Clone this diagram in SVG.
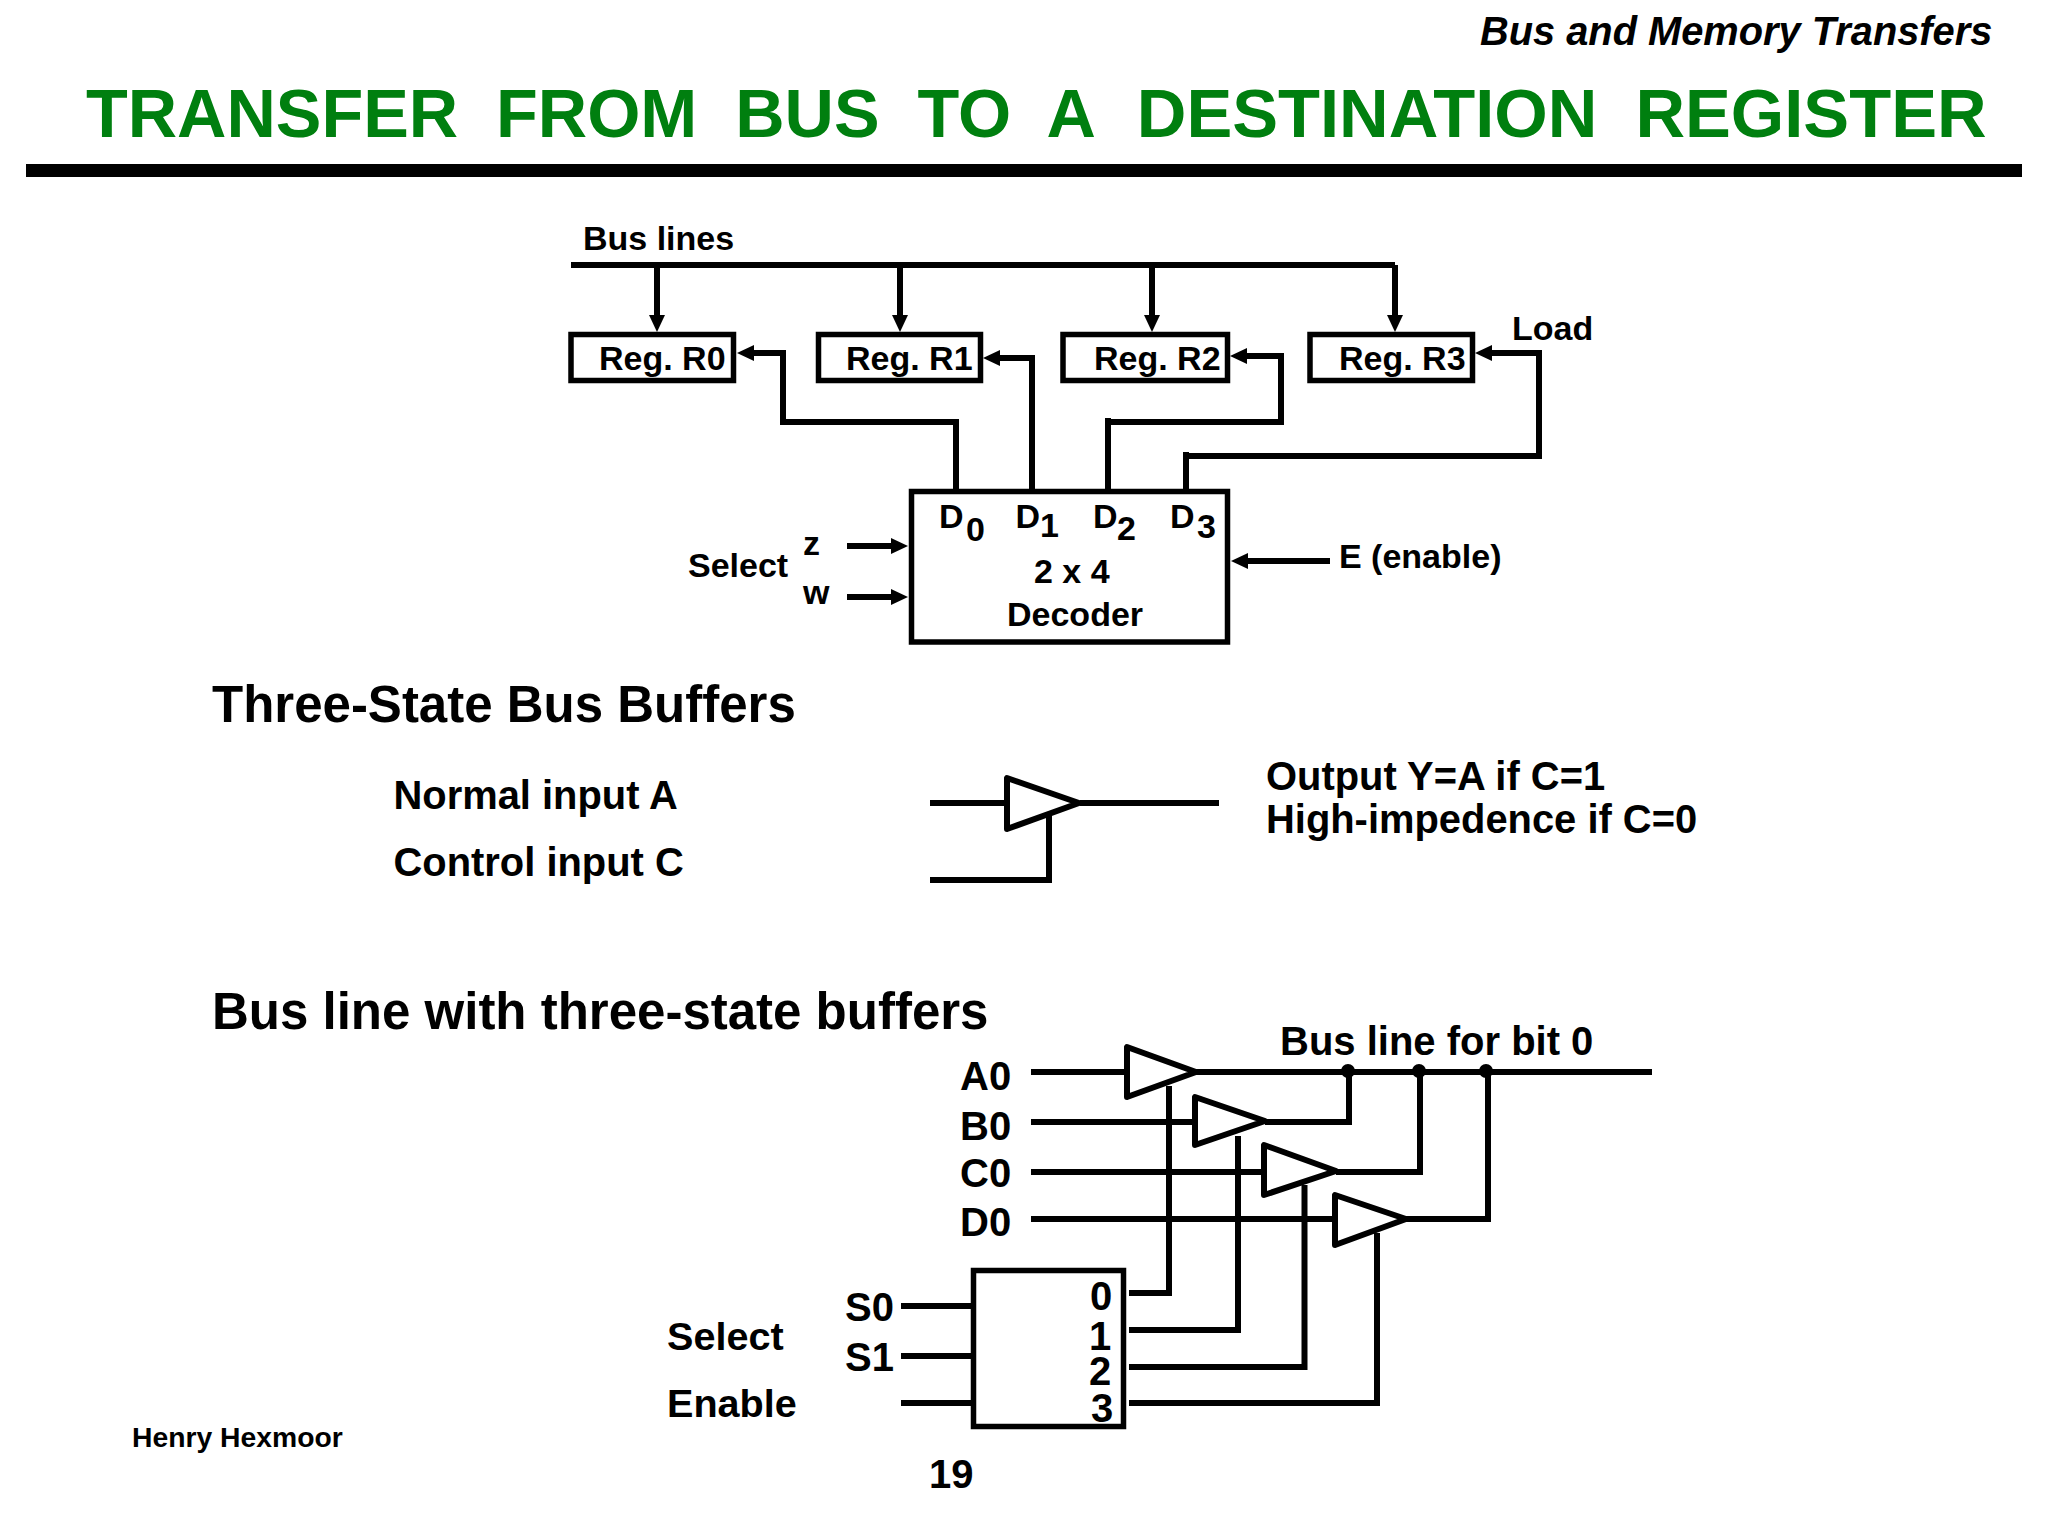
<svg xmlns="http://www.w3.org/2000/svg" width="2048" height="1536" viewBox="0 0 2048 1536">
<style>
text{font-family:"Liberation Sans",Arial,sans-serif;font-weight:700;fill:#000;white-space:pre}
.s34{font-size:34px}.s40{font-size:40px}.s395{font-size:39.6px}.s51{font-size:51px}.s399{font-size:39.9px}
.box{fill:none;stroke:#000;stroke-width:5.5}
.ln{fill:none;stroke:#000;stroke-width:6}
.tri{fill:#fff;stroke:#000;stroke-width:6;stroke-linejoin:round}
</style>
<defs>
<marker id="ah" markerUnits="userSpaceOnUse" markerWidth="20" markerHeight="18" refX="9" refY="8" orient="auto"><path d="M0 0L17 8L0 16z" fill="#000"/></marker>
</defs>
<rect width="2048" height="1536" fill="#fff"/>
<g id="header">
<text x="1480" y="44.5" style="font-size:39.8px;font-style:italic">Bus and Memory Transfers</text>
<text x="86" y="137" style="font-size:68.35px;fill:#007f0f">TRANSFER  FROM  BUS  TO  A  <tspan dx="5.4" style="font-size:68.7px">DESTINATION  REGISTER</tspan></text>
<rect x="26" y="164" width="1996" height="13" fill="#000"/>
</g>
<g id="connectors">
<path class="ln" d="M571 265H1395"/>
<path class="ln" marker-end="url(#ah)" d="M657 265V324"/>
<path class="ln" marker-end="url(#ah)" d="M900 265V324"/>
<path class="ln" marker-end="url(#ah)" d="M1152 265V324"/>
<path class="ln" marker-end="url(#ah)" d="M1395 265V324"/>
<path class="ln" marker-end="url(#ah)" d="M956 489V422H783V353H745"/>
<path class="ln" marker-end="url(#ah)" d="M1032 489V358H991"/>
<path class="ln" marker-end="url(#ah)" d="M1108 489V418M1108 422H1281V356H1238"/>
<path class="ln" marker-end="url(#ah)" d="M1186 489V452M1186 456H1539V353H1483"/>
<path class="ln" marker-end="url(#ah)" d="M847 546H900"/>
<path class="ln" marker-end="url(#ah)" d="M847 597H900"/>
<path class="ln" marker-end="url(#ah)" d="M1330 561H1239"/>
<path class="ln" d="M930 803H1007M1080 803H1219M930 880H1049V815"/>
<path class="ln" d="M1031 1072H1127M1196 1072H1652"/>
<path class="ln" d="M1031 1122H1195M1265 1122H1349V1072"/>
<path class="ln" d="M1031 1172H1264M1336 1172H1420V1072"/>
<path class="ln" d="M1031 1219H1335M1406 1219H1488V1072"/>
<path class="ln" d="M1169 1086V1293H1129"/>
<path class="ln" d="M1238 1136V1330H1129"/>
<path class="ln" d="M1304.5 1185V1367H1129"/>
<path class="ln" d="M1377 1233V1403H1129"/>
<path class="ln" d="M901 1306H972M901 1356H972M901 1403H972"/>
<circle cx="1348" cy="1071" r="7" fill="#000"/>
<circle cx="1419" cy="1071" r="7" fill="#000"/>
<circle cx="1486" cy="1071" r="7" fill="#000"/>
</g>
<g id="bus-label"><text class="s34" x="583" y="250">Bus lines</text></g>
<g id="load-label"><text class="s34" x="1512" y="340">Load</text></g>
<g id="reg-r0"><rect class="box" x="571" y="334.5" width="162.5" height="46"/><text class="s34" x="599" y="370">Reg. R0</text></g>
<g id="reg-r1"><rect class="box" x="818.5" y="334.5" width="162" height="46"/><text class="s34" x="846" y="370">Reg. R1</text></g>
<g id="reg-r2"><rect class="box" x="1063" y="334.5" width="164.5" height="46"/><text class="s34" x="1094" y="370">Reg. R2</text></g>
<g id="reg-r3"><rect class="box" x="1310" y="334.5" width="162.5" height="46"/><text class="s34" x="1339" y="370">Reg. R3</text></g>
<g id="decoder-2x4">
<rect class="box" x="911.5" y="491.5" width="316" height="150.5"/>
<text class="s34" x="939" y="528">D<tspan dx="2.5" dy="13">0</tspan></text>
<text class="s34" x="1015.5" y="528">D<tspan dx="0" dy="9">1</tspan></text>
<text class="s34" x="1093" y="528">D<tspan dx="-0.5" dy="12">2</tspan></text>
<text class="s34" x="1170" y="528">D<tspan dx="2.5" dy="10">3</tspan></text>
<text class="s34" x="1034" y="583">2 x 4</text>
<text class="s34" x="1007" y="626">Decoder</text>
</g>
<g id="select-labels">
<text class="s34" x="688" y="577">Select</text>
<text class="s34" x="803" y="555">z</text>
<text class="s34" x="803" y="604">w</text>
<text class="s34" x="1339" y="568">E (enable)</text>
</g>
<g id="buffer-heading"><text class="s51" x="212" y="721.5">Three-State Bus Buffers</text></g>
<g id="buffer-example">
<path class="tri" d="M1007 778V829L1079 803z"/>
<text class="s399" x="393.5" y="809">Normal input A</text>
<text class="s399" x="393.5" y="876">Control input C</text>
<text class="s399" x="1266" y="790">Output Y=A if C=1</text>
<text class="s399" x="1266" y="833">High-impedence if C=0</text>
</g>
<g id="busline-heading"><text class="s51" x="212" y="1029">Bus line with three-state buffers</text></g>
<g id="buffer-a0"><path class="tri" d="M1127 1047V1097L1196 1072z"/><text class="s40" x="960" y="1090">A0</text></g>
<g id="buffer-b0"><path class="tri" d="M1195 1097V1145L1265 1121z"/><text class="s40" x="960" y="1139.5">B0</text></g>
<g id="buffer-c0"><path class="tri" d="M1264 1145V1195L1336 1171z"/><text class="s40" x="960" y="1187">C0</text></g>
<g id="buffer-d0"><path class="tri" d="M1335 1195V1245L1406 1219z"/><text class="s40" x="960" y="1236">D0</text></g>
<g id="busline-label"><text class="s40" x="1280" y="1054.5">Bus line for bit 0</text></g>
<g id="decoder-select">
<rect class="box" x="973.5" y="1270.5" width="150" height="156"/>
<text class="s40"><tspan x="1090" y="1310">0</tspan><tspan x="1089" y="1350">1</tspan><tspan x="1089" y="1385">2</tspan><tspan x="1091" y="1422">3</tspan></text>
<text class="s40" x="845" y="1321">S0</text>
<text class="s40" x="845" y="1371">S1</text>
<text class="s395" x="667" y="1350">Select</text>
<text class="s395" x="667" y="1417">Enable</text>
</g>
<g id="footer">
<text x="132" y="1447" style="font-size:28.3px">Henry Hexmoor</text>
<text class="s40" x="929" y="1488">19</text>
</g>
</svg>
